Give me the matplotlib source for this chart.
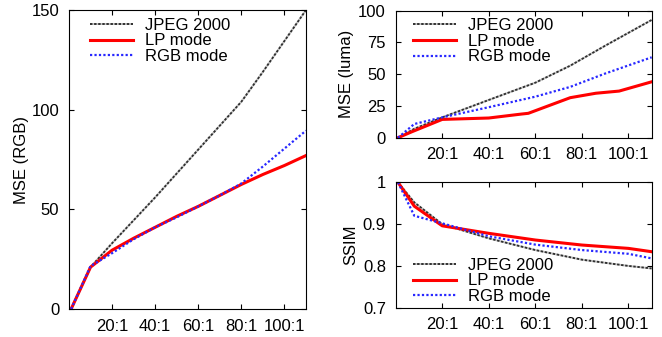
import matplotlib
matplotlib.use("Agg")
import matplotlib.pyplot as plt

plt.rcParams['font.family'] = ['Liberation Sans', 'DejaVu Sans']
plt.rcParams['font.size'] = 12

# compression ratio (x:1)
ratio = [1, 10, 20, 30, 40, 50, 60, 70, 80, 90, 100, 110]

# MSE (RGB)
rgb_jpeg = [0, 21, 33, 44.5, 56, 68, 80, 92, 104, 119, 134.5, 150]
rgb_lp = [0, 21, 29.5, 35.5, 41, 46.5, 51.5, 57, 62.5, 67.5, 72, 77]
rgb_rgb = [0, 21.5, 28, 35, 41, 46, 51.5, 57, 63, 71.5, 80.5, 89.5]

# MSE (luma)
luma_x_lp = [1, 7, 20, 40, 54, 57, 75, 86, 96, 110]
luma_lp = [0, 4.7, 14.4, 15.5, 18.6, 19.2, 31.5, 35, 36.7, 44]
luma_x = [1, 8, 20, 40, 60, 75, 90, 110]
luma_jpeg = [0, 7, 16, 29.7, 43.3, 56.7, 72.4, 92.7]
luma_rgb = [0, 10.8, 16, 24, 32.3, 40, 50.5, 63.3]

# SSIM
ssim_x = [1, 8, 20, 40, 60, 80, 100, 110]
ssim_jpeg = [1.0, 0.952, 0.9, 0.866, 0.838, 0.815, 0.80, 0.794]
ssim_lp = [1.0, 0.943, 0.896, 0.878, 0.862, 0.85, 0.842, 0.834]
ssim_rgb = [1.0, 0.92, 0.902, 0.871, 0.851, 0.838, 0.829, 0.818]

labels = ["JPEG 2000", "LP mode", "RGB mode"]
xticks = [20, 40, 60, 80, 100]
xticklabels = ["20:1", "40:1", "60:1", "80:1", "100:1"]

jpeg_style = dict(color='#303030', gapcolor='#c4c4c4', linestyle=(0, (1.3, 0.8)), lw=1.4)
lp_style = dict(color='#ff0000', lw=2.2)
rgb_style = dict(color='#2828ff', linestyle=(0, (1.0, 1.0)), lw=1.6)

fig = plt.figure(figsize=(6.62, 3.37), dpi=100)
ax1 = fig.add_axes([0.1042, 0.0831, 0.358, 0.887])
ax2 = fig.add_axes([0.5977, 0.5914, 0.3867, 0.3769])
ax3 = fig.add_axes([0.5977, 0.0869, 0.3867, 0.372])


def style_axis(ax):
    ax.set_xlim(0, 110)
    ax.set_xticks(xticks)
    ax.set_xticklabels(xticklabels)
    ax.tick_params(direction='in', top=True, right=True, length=3.5, width=0.8, pad=7)
    for s in ax.spines.values():
        s.set_linewidth(0.8)


ax1.plot(ratio, rgb_jpeg, label=labels[0], **jpeg_style)
ax1.plot(ratio, rgb_lp, label=labels[1], **lp_style)
ax1.plot(ratio, rgb_rgb, label=labels[2], **rgb_style)
style_axis(ax1)
ax1.set_ylim(0, 150)
ax1.set_yticks([0, 50, 100, 150])
ax1.set_ylabel("MSE (RGB)", labelpad=2)

ax2.plot(luma_x, luma_jpeg, label=labels[0], **jpeg_style)
ax2.plot(luma_x_lp, luma_lp, label=labels[1], **lp_style)
ax2.plot(luma_x, luma_rgb, label=labels[2], **rgb_style)
style_axis(ax2)
ax2.set_ylim(0, 100)
ax2.set_yticks([0, 25, 50, 75, 100])
ax2.set_ylabel("MSE (luma)", labelpad=3)

ax3.plot(ssim_x, ssim_jpeg, label=labels[0], **jpeg_style)
ax3.plot(ssim_x, ssim_lp, label=labels[1], **lp_style)
ax3.plot(ssim_x, ssim_rgb, label=labels[2], **rgb_style)
style_axis(ax3)
ax3.set_ylim(0.7, 1.0)
ax3.set_yticks([0.7, 0.8, 0.9, 1.0])
ax3.set_yticklabels(["0.7", "0.8", "0.9", "1"])
ax3.set_ylabel("SSIM", labelpad=3)

leg_kw = dict(frameon=False, borderpad=0, borderaxespad=0, handlelength=2.6,
              handletextpad=0.7, labelspacing=0.05, loc='upper left')
ax1.legend(bbox_to_anchor=(0.0886, 0.975), **leg_kw)
ax2.legend(bbox_to_anchor=(0.0676, 0.945), **leg_kw)
ax3.legend(bbox_to_anchor=(0.0676, 0.40), **leg_kw)

fig.savefig("out.png", dpi=100)
